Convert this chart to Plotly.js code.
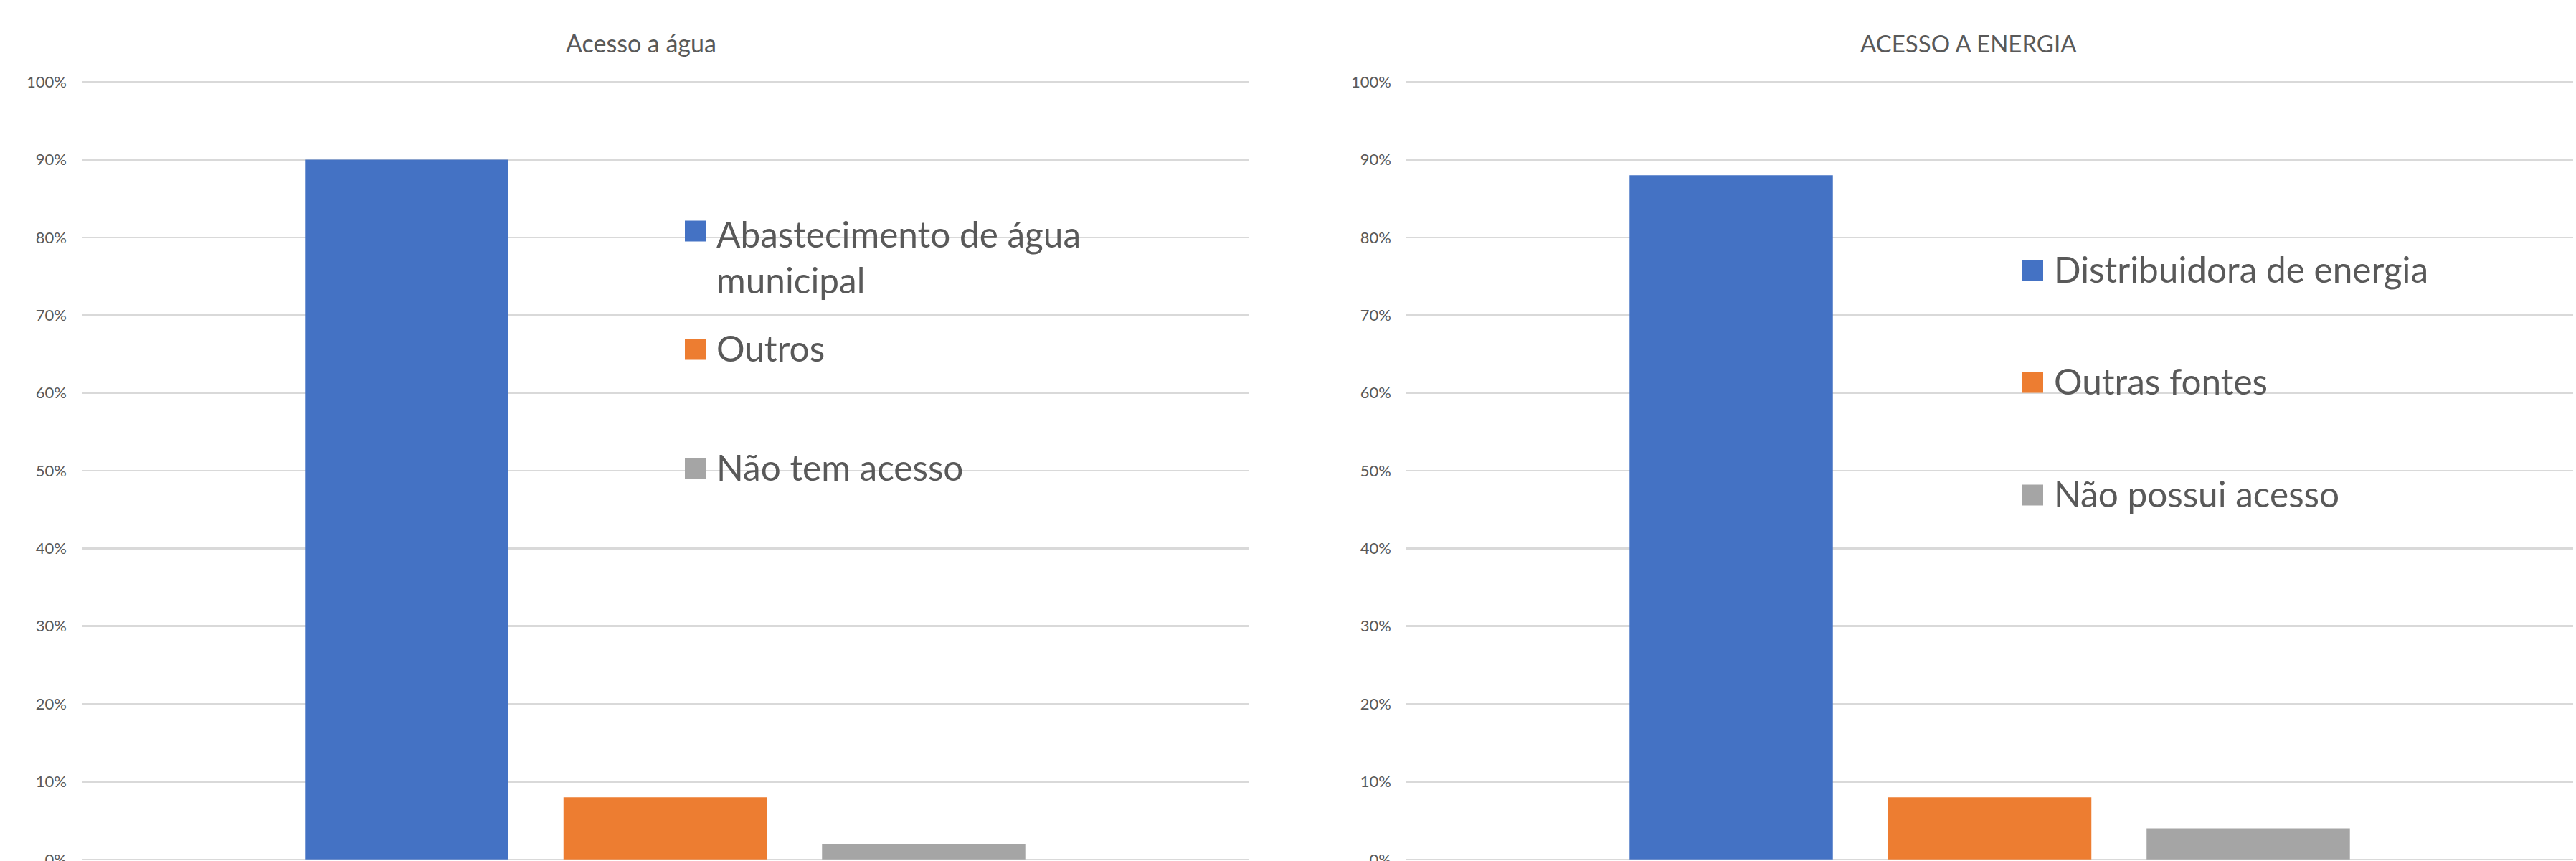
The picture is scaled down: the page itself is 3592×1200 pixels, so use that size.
<!DOCTYPE html>
<html>
<head>
<meta charset="utf-8">
<script src="https://cdn.plot.ly/plotly-3.0.1.min.js"></script>
<style>
  html, body { margin: 0; padding: 0; background: #ffffff; }
  #chart { width: 3592px; height: 1200px; }
</style>
</head>
<body>
<div id="chart"></div>
<script>
// ---------- data ----------
const waterTitle = 'Acesso a água';
const waterLabels = ['Abastecimento de água municipal', 'Outros', 'Não tem acesso'];
const waterValues = [0.90, 0.08, 0.02];

const energyTitle = 'ACESSO A ENERGIA';
const energyLabels = ['Distribuidora de energia', 'Outras fontes', 'Não possui acesso'];
const energyValues = [0.88, 0.08, 0.04];

// ---------- style ----------
const seriesColors = ['#4472C4', '#ED7D31', '#A5A5A5'];
const textColor = '#595959';
const gridColor = '#D9D9D9';
const FONT = 'Lato, "Open Sans", sans-serif';

const W = 3592, H = 1200;
const M = { l: 114, r: 4, t: 112, b: 0 };
const plotW = W - M.l - M.r, plotH = H - M.t - M.b;
const px2x = p => (p - M.l) / plotW;
const px2y = p => (H - M.b - p) / plotH;

// legend placement (pixels): square left, text left, square centres
const legendSpec = [
  { sqX: 955, txtX: 998, cy: [322, 487, 653] },
  { sqX: 2820, txtX: 2863, cy: [377, 533, 690] }
];

function wrap(label) {
  return label.length > 26 ? label.replace(/ (\S+)$/, '<br>$1') : label;
}

const traces = [];
const charts = [
  { labels: waterLabels, values: waterValues, cat: waterTitle, xa: 'x', ya: 'y' },
  { labels: energyLabels, values: energyValues, cat: energyTitle, xa: 'x2', ya: 'y2' }
];
charts.forEach(c => {
  c.labels.forEach((lab, i) => {
    traces.push({
      type: 'bar',
      name: lab,
      x: [c.cat],
      y: [c.values[i]],
      xaxis: c.xa,
      yaxis: c.ya,
      marker: { color: seriesColors[i], line: { width: 0 } },
      hoverinfo: 'name+y',
      showlegend: false
    });
  });
});

const annotations = [];
const shapes = [];

// chart titles
[[waterTitle, 894, 34], [energyTitle, 2745, 33]].forEach(([t, cx, fs]) => {
  annotations.push({
    text: t, xref: 'paper', yref: 'paper',
    x: px2x(cx), y: px2y(60), xanchor: 'center', yanchor: 'middle',
    showarrow: false, font: { family: FONT, size: fs, color: textColor }
  });
});

// legends
charts.forEach((c, k) => {
  const spec = legendSpec[k];
  c.labels.forEach((lab, i) => {
    const cy = spec.cy[i];
    shapes.push({
      type: 'rect', xref: 'paper', yref: 'paper',
      xsizemode: 'pixel', ysizemode: 'pixel',
      xanchor: px2x(spec.sqX), yanchor: px2y(cy),
      x0: 0, x1: 29, y0: -14.5, y1: 14.5,
      fillcolor: seriesColors[i], line: { width: 0 }
    });
    const txt = wrap(lab);
    const multi = txt.indexOf('<br>') >= 0;
    annotations.push({
      text: txt, xref: 'paper', yref: 'paper',
      x: px2x(spec.txtX), y: px2y(multi ? cy - 27 : cy - 2),
      xanchor: 'left', yanchor: multi ? 'top' : 'middle', align: 'left',
      borderpad: 0, showarrow: false,
      font: { family: FONT, size: 49.5, color: textColor }
    });
  });
});

const yAxisBase = {
  range: [-0.002, 1.002], tickvals: [0, 0.1, 0.2, 0.3, 0.4, 0.5, 0.6, 0.7, 0.8, 0.9, 1],
  tickformat: '.0%',
  showgrid: true, gridcolor: gridColor, gridwidth: 2.5,
  zeroline: false, showline: false, ticks: '',
  ticklabelstandoff: 20, ticklabeloverflow: 'allow',
  tickfont: { family: FONT, size: 22, color: textColor },
  fixedrange: true
};
const xAxisBase = {
  type: 'category', range: [-0.5, 0.5], showticklabels: false,
  showgrid: false, zeroline: false, showline: false, ticks: '', fixedrange: true
};

const layout = {
  width: W, height: H,
  margin: M,
  paper_bgcolor: '#ffffff', plot_bgcolor: '#ffffff',
  barmode: 'group', bargap: 0.3353, bargroupgap: 0.2136,
  showlegend: false,
  font: { family: FONT, color: textColor },
  xaxis: Object.assign({}, xAxisBase, { domain: [0, 1627 / plotW], anchor: 'y' }),
  yaxis: Object.assign({}, yAxisBase, { anchor: 'x' }),
  xaxis2: Object.assign({}, xAxisBase, { domain: [1847 / plotW, 1], anchor: 'y2' }),
  yaxis2: Object.assign({}, yAxisBase, { anchor: 'x2' }),
  annotations: annotations,
  shapes: shapes
};

Plotly.newPlot('chart', traces, layout, { displayModeBar: false, staticPlot: true });
</script>
</body>
</html>
